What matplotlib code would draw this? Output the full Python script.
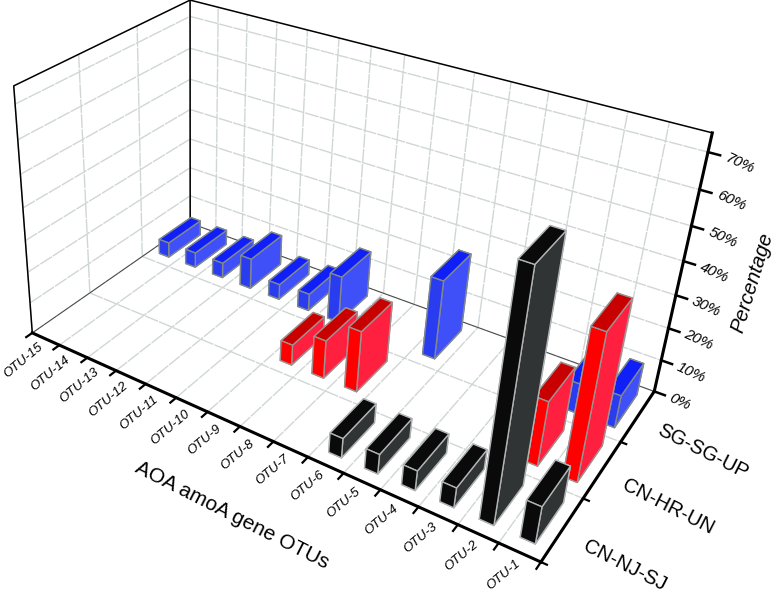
import numpy as np
import matplotlib
matplotlib.use('Agg')
import matplotlib.pyplot as plt
from mpl_toolkits.mplot3d import proj3d

plt.rcParams['font.family'] = ['Liberation Sans', 'DejaVu Sans']

# Datos
otus = ['OTU-15', 'OTU-14', 'OTU-13', 'OTU-12', 'OTU-11', 'OTU-10', 'OTU-9', 'OTU-8',
        'OTU-7', 'OTU-6', 'OTU-5', 'OTU-4', 'OTU-3', 'OTU-2', 'OTU-1']
sites = ['CN-NJ-SJ', 'CN-HR-UN', 'SG-SG-UP']
cn_nj_sj = [0, 0, 0, 0, 0, 0, 0, 0, 0, 6, 6, 6, 6, 70, 11]
cn_hr_un = [0, 0, 0, 0, 0, 0, 6.5, 12, 19, 0, 0, 0, 0, 19.5, 43.5]
sg_sg_up = [5, 5, 5, 10, 5, 5.5, 15, 0, 0, 25, 0, 0, 0, 9, 10]
z_ticks = [0, 10, 20, 30, 40, 50, 60, 70]
z_top = 75

# Puntos del marco para calcular la camara (x, y, z) -> pixel
frame_xyz = [(0, 0, 0), (15, 0, 0), (15, 3, 0), (0, 3, 0), (0, 0, 75), (0, 3, 75), (15, 3, 75),
             (15, 3, 10), (15, 3, 20), (15, 3, 30), (15, 3, 40), (15, 3, 50), (15, 3, 60), (15, 3, 70),
             (5, 0, 0), (9, 0, 0), (12, 0, 0), (15, 1, 0), (15, 2, 0)]
frame_px = [(33, 334), (540, 560), (653, 392), (191, 222), (15, 85), (189, 0), (712, 131),
            (660, 360), (668, 328), (676, 295), (683, 262), (692, 227), (700, 191), (708, 153),
            (175, 399), (306, 458), (417, 507), (587, 497), (623, 442)]


def camera(xyz, px):
    rows, rhs = [], []
    for (x, y, z), (u, v) in zip(xyz, px):
        v = 594 - v
        rows.append([x, y, z, 1, 0, 0, 0, 0, -u * x, -u * y, -u * z])
        rows.append([0, 0, 0, 0, x, y, z, 1, -v * x, -v * y, -v * z])
        rhs += [u, v]
    p = np.linalg.lstsq(np.array(rows, float), np.array(rhs, float), rcond=None)[0]
    p = np.append(p, 1).reshape(3, 4)
    depth = np.array([0, 0, 0, -1.0])
    return np.array([p[0], p[1], depth, p[2]])


M = camera(frame_xyz, frame_px)

fig = plt.figure(figsize=(7.75, 5.94), dpi=100)
ax = fig.add_axes([0, -90.5 / 594, 1, 775 / 594], projection='3d')
ax.set_axis_off()
ax.set_proj_type('ortho')
ax.computed_zorder = False
ax.get_proj = lambda: M
ax.viewLim.intervalx = (0, 775)
ax.viewLim.intervaly = (-90.5, 684.5)


def label(x, y, z, s, **kw):
    px, py, _ = proj3d.proj_transform(x, y, z, M)
    ax.text2D(px, py, s, transform=ax.transData, rotation_mode='anchor', **kw)


grid_color = '#d0d6d6'
grid_ls = (0, (10, 0.8))
for i in range(16):
    ax.plot([i, i], [0, 3], [0, 0], color=grid_color, lw=1.0, ls=grid_ls, zorder=1)
    ax.plot([i, i], [3, 3], [0, z_top], color=grid_color, lw=1.0, ls=grid_ls, zorder=1)
for j in range(4):
    ax.plot([0, 15], [j, j], [0, 0], color=grid_color, lw=1.0, ls=grid_ls, zorder=1)
    ax.plot([0, 0], [j, j], [0, z_top], color=grid_color, lw=1.0, ls=grid_ls, zorder=1)
for z in z_ticks[1:]:
    ax.plot([0, 15], [3, 3], [z, z], color=grid_color, lw=1.0, ls=grid_ls, zorder=1)
    ax.plot([0, 0], [0, 3], [z, z], color=grid_color, lw=1.0, ls=grid_ls, zorder=1)

# Marco
ax.plot([0, 0], [0, 3], [0, 0], color='#444444', lw=0.7, zorder=2)
ax.plot([0, 15], [3, 3], [0, 0], color='#444444', lw=0.7, zorder=2)
ax.plot([0, 0, 0, 15], [0, 0, 3, 3], [0, z_top, z_top, z_top], color='k', lw=1.1, zorder=2)
ax.plot([0, 0], [3, 3], [0, z_top], color='k', lw=1.1, zorder=2)

# Barras
red_faces = ['#ff0000', '#c80000', '#ff0000', '#ff0000', '#ff0000', '#ff2040']
blue_faces = ['#2a3cf0', '#0f1ff5', '#2a3cf0', '#2a3cf0', '#2a3cf0', '#4050f8']
black_faces = ['#0a0a0a', '#0a0a0a', '#0a0a0a', '#0a0a0a', '#0a0a0a', '#303435']
rows = [(2, sg_sg_up, blue_faces, '#808890'), (1, cn_hr_un, red_faces, '#a09090'),
        (0, cn_nj_sj, black_faces, '#b0b4b4')]
order = 10
for j, values, faces, edge in rows:
    for i, val in enumerate(values):
        if val > 0:
            ax.bar3d(i + 0.32, j + 0.18, 0, 0.36, 0.66, val, color=faces, edgecolor=edge,
                     linewidth=1.0, shade=False, zorder=order)
            order += 1

# Ejes gruesos
ax.plot([0, 15], [0, 0], [0, 0], color='k', lw=2.2, zorder=60)
ax.plot([15, 15], [0, 3], [0, 0], color='k', lw=2.2, zorder=60)
ax.plot([15, 15], [3, 3], [0, z_top], color='k', lw=2.2, zorder=60)
for i in range(16):
    ax.plot([i, i], [0, -0.1], [0, 0], color='k', lw=1.6, zorder=60)
for j in range(3):
    ax.plot([15, 15.14], [j, j], [0, 0], color='k', lw=1.6, zorder=60)
for z in z_ticks:
    ax.plot([15, 15.28], [3, 3], [z, z], color='k', lw=1.8, zorder=60)

# Textos
for i, name in enumerate(otus):
    label(i + 0.6, -0.12, 0, name, rotation=40, ha='right', va='center', fontsize=9.5, style='italic')
for j, name in enumerate(sites):
    label(15.6, j + 0.42, 0, name, rotation=-27, ha='left', va='center', fontsize=14.5)
for z in z_ticks:
    label(15.42, 3, z, '%d%%' % z, rotation=-25, ha='left', va='center', fontsize=10.8, style='italic')
fig.text(232 / 775, 1 - 515 / 594, 'AOA amoA gene OTUs', rotation=-27, ha='center', va='center',
         rotation_mode='anchor', fontsize=15)
fig.text(752 / 775, 1 - 283 / 594, 'Percentage', rotation=73, ha='center', va='center',
         rotation_mode='anchor', fontsize=14.6, style='italic')

fig.savefig('out.png', dpi=100)
